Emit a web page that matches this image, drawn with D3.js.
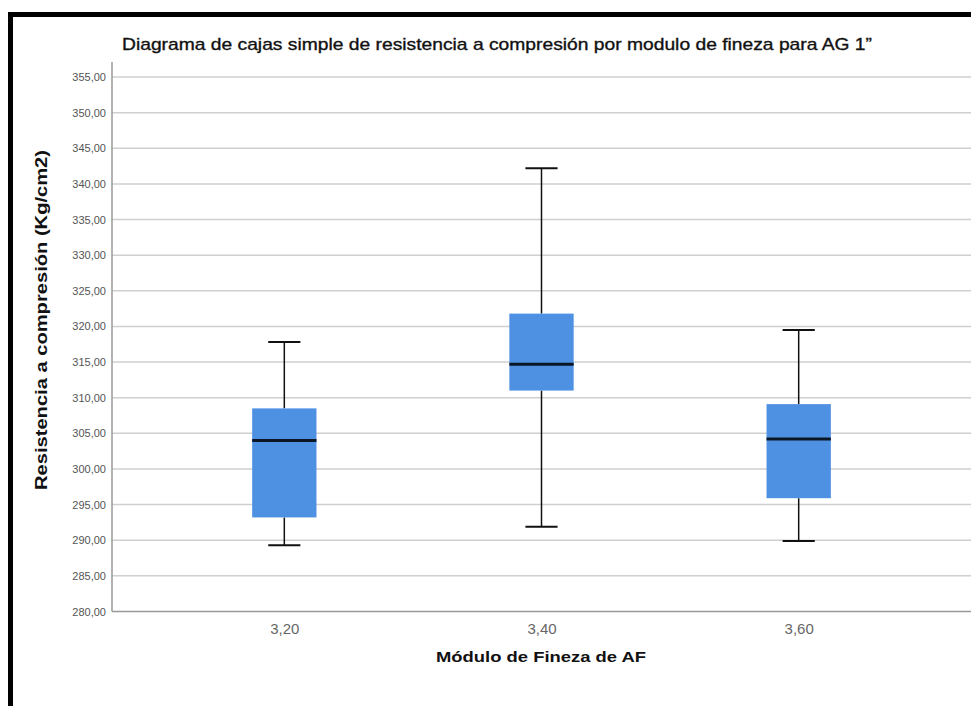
<!DOCTYPE html>
<html>
<head>
<meta charset="utf-8">
<script src="https://cdn.jsdelivr.net/npm/d3@7"></script>
<style>
  html, body { margin: 0; padding: 0; background: #fff; }
  svg { display: block; }
</style>
</head>
<body>
<svg id="chart" width="971" height="706"></svg>
<script>
// Categories (fineness modulus of the fine aggregate)
const categories = ["3,20", "3,40", "3,60"];
// Five-number summaries per category (Kg/cm2)
const whiskerLow  = [289.3, 291.9, 289.9];
const q1          = [293.2, 311.0, 295.9];
const median      = [304.0, 314.7, 304.2];
const q3          = [308.5, 321.8, 309.1];
const whiskerHigh = [317.8, 342.2, 319.5];
// Y axis ticks
const yTicks = d3.range(280, 356, 5);

const title = "Diagrama de cajas simple de resistencia a compresión por modulo de fineza para AG 1”";
const yTitle = "Resistencia a compresión (Kg/cm2)";
const xTitle = "Módulo de Fineza de AF";

const svg = d3.select("#chart");
const W = 971, H = 706;
const plot = { left: 112, right: 971, top: 62, bottom: 612 };

svg.append("rect").attr("width", W).attr("height", H).attr("fill", "#fff");

// frame around the figure
svg.append("rect").attr("x", 8).attr("y", 12).attr("width", W - 8).attr("height", 5).attr("fill", "#000");
svg.append("rect").attr("x", 8).attr("y", 12).attr("width", 5).attr("height", H - 12).attr("fill", "#000");

const y = d3.scaleLinear().domain([280, 355]).range([611.5, 77]);
const x = d3.scalePoint().domain(categories).range([plot.left, plot.right]).padding(0.67);
const boxW = x.step() * 0.25;

const data = categories.map((c, i) => ({
  c, lo: whiskerLow[i], q1: q1[i], med: median[i], q3: q3[i], hi: whiskerHigh[i]
}));

// gridlines
svg.append("g").selectAll("line").data(yTicks.slice(1)).join("line")
  .attr("x1", plot.left).attr("x2", plot.right)
  .attr("y1", d => y(d)).attr("y2", d => y(d))
  .attr("stroke", "#cfcfcf").attr("stroke-width", 1.5);

// y axis
const yAxis = d3.axisLeft(y).tickValues(yTicks)
  .tickFormat(d => d3.format(".2f")(d).replace(".", ","))
  .tickSize(0).tickPadding(6);
const gy = svg.append("g").attr("transform", `translate(${plot.left},0)`).call(yAxis);
gy.select(".domain").remove();
gy.selectAll("text").attr("font-family", "Liberation Sans, Arial, sans-serif")
  .attr("font-size", 11).attr("fill", "#555");
svg.append("line").attr("x1", plot.left).attr("x2", plot.left)
  .attr("y1", plot.top).attr("y2", y(280))
  .attr("stroke", "#999").attr("stroke-width", 1.5);

// x axis
const xAxis = d3.axisBottom(x).tickSize(0).tickPadding(12);
const gx = svg.append("g").attr("transform", `translate(0,${y(280)})`).call(xAxis);
gx.select(".domain").remove();
gx.selectAll("text").attr("font-family", "Liberation Sans, Arial, sans-serif")
  .attr("font-size", 15).attr("fill", "#666");
svg.append("line").attr("x1", plot.left).attr("x2", plot.right)
  .attr("y1", y(280)).attr("y2", y(280))
  .attr("stroke", "#999").attr("stroke-width", 1.5);

// boxes
const g = svg.append("g").selectAll("g").data(data).join("g");
g.append("line").attr("x1", d => x(d.c)).attr("x2", d => x(d.c))
  .attr("y1", d => y(d.hi)).attr("y2", d => y(d.q3))
  .attr("stroke", "#111").attr("stroke-width", 1.5);
g.append("line").attr("x1", d => x(d.c)).attr("x2", d => x(d.c))
  .attr("y1", d => y(d.q1)).attr("y2", d => y(d.lo))
  .attr("stroke", "#111").attr("stroke-width", 1.5);
g.append("line").attr("x1", d => x(d.c) - boxW / 4).attr("x2", d => x(d.c) + boxW / 4)
  .attr("y1", d => y(d.hi)).attr("y2", d => y(d.hi))
  .attr("stroke", "#111").attr("stroke-width", 2);
g.append("line").attr("x1", d => x(d.c) - boxW / 4).attr("x2", d => x(d.c) + boxW / 4)
  .attr("y1", d => y(d.lo)).attr("y2", d => y(d.lo))
  .attr("stroke", "#111").attr("stroke-width", 2);
g.append("rect").attr("x", d => x(d.c) - boxW / 2).attr("width", boxW)
  .attr("y", d => y(d.q3)).attr("height", d => y(d.q1) - y(d.q3))
  .attr("fill", "#4e90e2");
g.append("line").attr("x1", d => x(d.c) - boxW / 2).attr("x2", d => x(d.c) + boxW / 2)
  .attr("y1", d => y(d.med)).attr("y2", d => y(d.med))
  .attr("stroke", "#0b1625").attr("stroke-width", 3);

// titles
svg.append("text").attr("x", 122).attr("y", 50)
  .attr("font-family", "Liberation Sans, Arial, sans-serif").attr("font-size", 17)
  .attr("fill", "#111").attr("stroke", "#111").attr("stroke-width", 0.35)
  .attr("textLength", 750).attr("lengthAdjust", "spacingAndGlyphs")
  .text(title);

svg.append("text").attr("transform", "translate(47,320) rotate(-90)")
  .attr("text-anchor", "middle")
  .attr("font-family", "Liberation Sans, Arial, sans-serif").attr("font-size", 16)
  .attr("font-weight", "bold").attr("fill", "#111")
  .attr("textLength", 340).attr("lengthAdjust", "spacingAndGlyphs")
  .text(yTitle);

svg.append("text").attr("x", 541).attr("y", 662).attr("text-anchor", "middle")
  .attr("font-family", "Liberation Sans, Arial, sans-serif").attr("font-size", 15)
  .attr("font-weight", "bold").attr("fill", "#111")
  .attr("textLength", 210).attr("lengthAdjust", "spacingAndGlyphs")
  .text(xTitle);
</script>
</body>
</html>
